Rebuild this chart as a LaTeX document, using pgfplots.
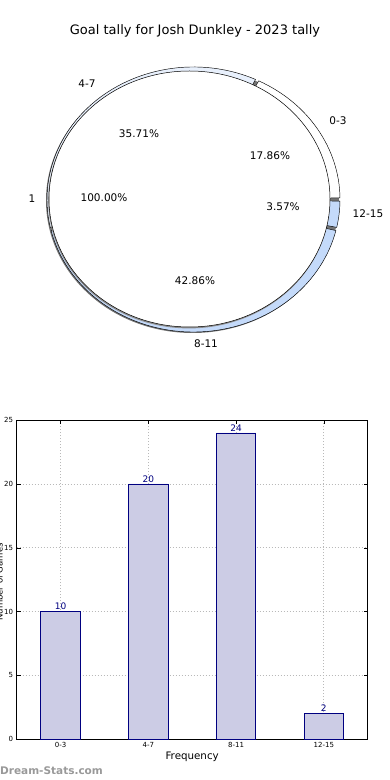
\documentclass[border=0pt]{standalone}
\usepackage{fontspec}
\setmainfont{DejaVu Sans}
\usepackage{pgfplots}
\usepackage{pgfplotstable}
\pgfplotsset{compat=1.18}
\definecolor{barfill}{RGB}{204,204,229}
\definecolor{baredge}{RGB}{0,0,128}
\definecolor{ringA}{RGB}{255,255,255}
\definecolor{ringB}{RGB}{232,240,252}
\definecolor{ringC}{RGB}{196,218,250}
\definecolor{ringD}{RGB}{196,218,250}
\pgfplotstableread{
label value
0-3 10
4-7 20
8-11 24
12-15 2
}\goals
\pgfplotstablegetelem{0}{value}\of\goals \let\vA\pgfplotsretval
\pgfplotstablegetelem{1}{value}\of\goals \let\vB\pgfplotsretval
\pgfplotstablegetelem{2}{value}\of\goals \let\vC\pgfplotsretval
\pgfplotstablegetelem{3}{value}\of\goals \let\vD\pgfplotsretval
\pgfmathsetmacro\tot{\vA+\vB+\vC+\vD}
\pgfmathsetmacro\aA{360*\vA/\tot}
\pgfmathsetmacro\aB{\aA+360*\vB/\tot}
\pgfmathsetmacro\aC{\aB+360*\vC/\tot}
\newcommand\seg[3]{%
  \pgfmathsetmacro\sa{#1}\pgfmathsetmacro\sb{#2}%
  \pgfmathsetmacro\px{193.5+146.5*cos(\sa)}\pgfmathsetmacro\py{190.5+132.5*sin(\sa)}%
  \edef\temp{\noexpand\filldraw[fill=#3,draw=black,line width=0.45pt]
    (193.5,190.5) -- (\px,\py)
    arc[start angle=\sa,end angle=\sb,x radius=146.5,y radius=132.5] -- cycle;}%
  \temp}
\begin{document}
\begin{tikzpicture}[x=1pt,y=1pt]
\useasboundingbox (0,0) rectangle (390,780);
\node at (195,749) {\fontsize{13}{15}\selectfont Goal tally for Josh Dunkley - 2023 tally};
\begin{axis}[at={(0,390)},anchor=south west,width=390pt,height=390pt,scale only axis,
  xmin=0,xmax=390,ymin=0,ymax=390,hide axis,clip=false,disabledatascaling]
\fill[black!55] (192.5,189.5) ellipse[x radius=146.5,y radius=132.5];
\seg{0.7}{\aA-0.7}{ringA}
\seg{\aA+0.7}{\aB-0.7}{ringB}
\seg{\aB+0.7}{\aC-0.7}{ringC}
\seg{\aC+0.7}{359.3}{ringD}
\fill[black!45] (189,190) ellipse[x radius=140.8,y radius=128.4];
\filldraw[fill=white,draw=black,line width=0.5pt] (189.5,191) ellipse[x radius=140.5,y radius=128];
\begin{scope}[every node/.style={font=\fontsize{10.5}{12}\selectfont}]
\node at (87,306) {4-7};
\node at (338,269) {0-3};
\node at (368,176) {12-15};
\node at (206,46) {8-11};
\node at (32,191) {1};
\node at (139,256) {35.71\%};
\node at (270,234) {17.86\%};
\node at (283,183) {3.57\%};
\node at (195,109) {42.86\%};
\node at (104,192) {100.00\%};
\end{scope}
\end{axis}
\begin{axis}[at={(19,32)},anchor=south west,width=351pt,height=319pt,scale only axis,
  xmin=-0.5,xmax=3.5,ymin=0,ymax=25,
  xtick=data,xticklabels from table={\goals}{label},
  ytick={0,5,10,15,20,25},
  /pgf/number format/assume math mode=true,
  ticklabel style={font=\fontsize{7}{8}\selectfont},
  tick align=inside,major tick length=4pt,tick style={black,line width=0.5pt},
  grid=major,grid style={gray!55,line width=0.8pt,dash pattern=on 1pt off 2pt},
  axis line style={line width=0.8pt},
  xlabel={Frequency},xlabel style={font=\fontsize{10.3}{12}\selectfont,yshift=3pt},
  ]
\addplot[ybar,bar width=0.45,fill=barfill,draw=baredge,line width=0.7pt,
  nodes near coords,nodes near coords style={font=\fontsize{9}{10}\selectfont,color=baredge,yshift=-2pt}]
  table[x expr=\coordindex,y=value]{\goals};
\end{axis}
\node[rotate=90,anchor=base,font=\fontsize{8.5}{10}\selectfont] at (2.5,198) {Number of Games};
\node[anchor=west,font=\bfseries\fontsize{10.5}{12}\selectfont,text=black!40,inner sep=0pt] at (0,9) {Dream-Stats.com};
\end{tikzpicture}
\end{document}
